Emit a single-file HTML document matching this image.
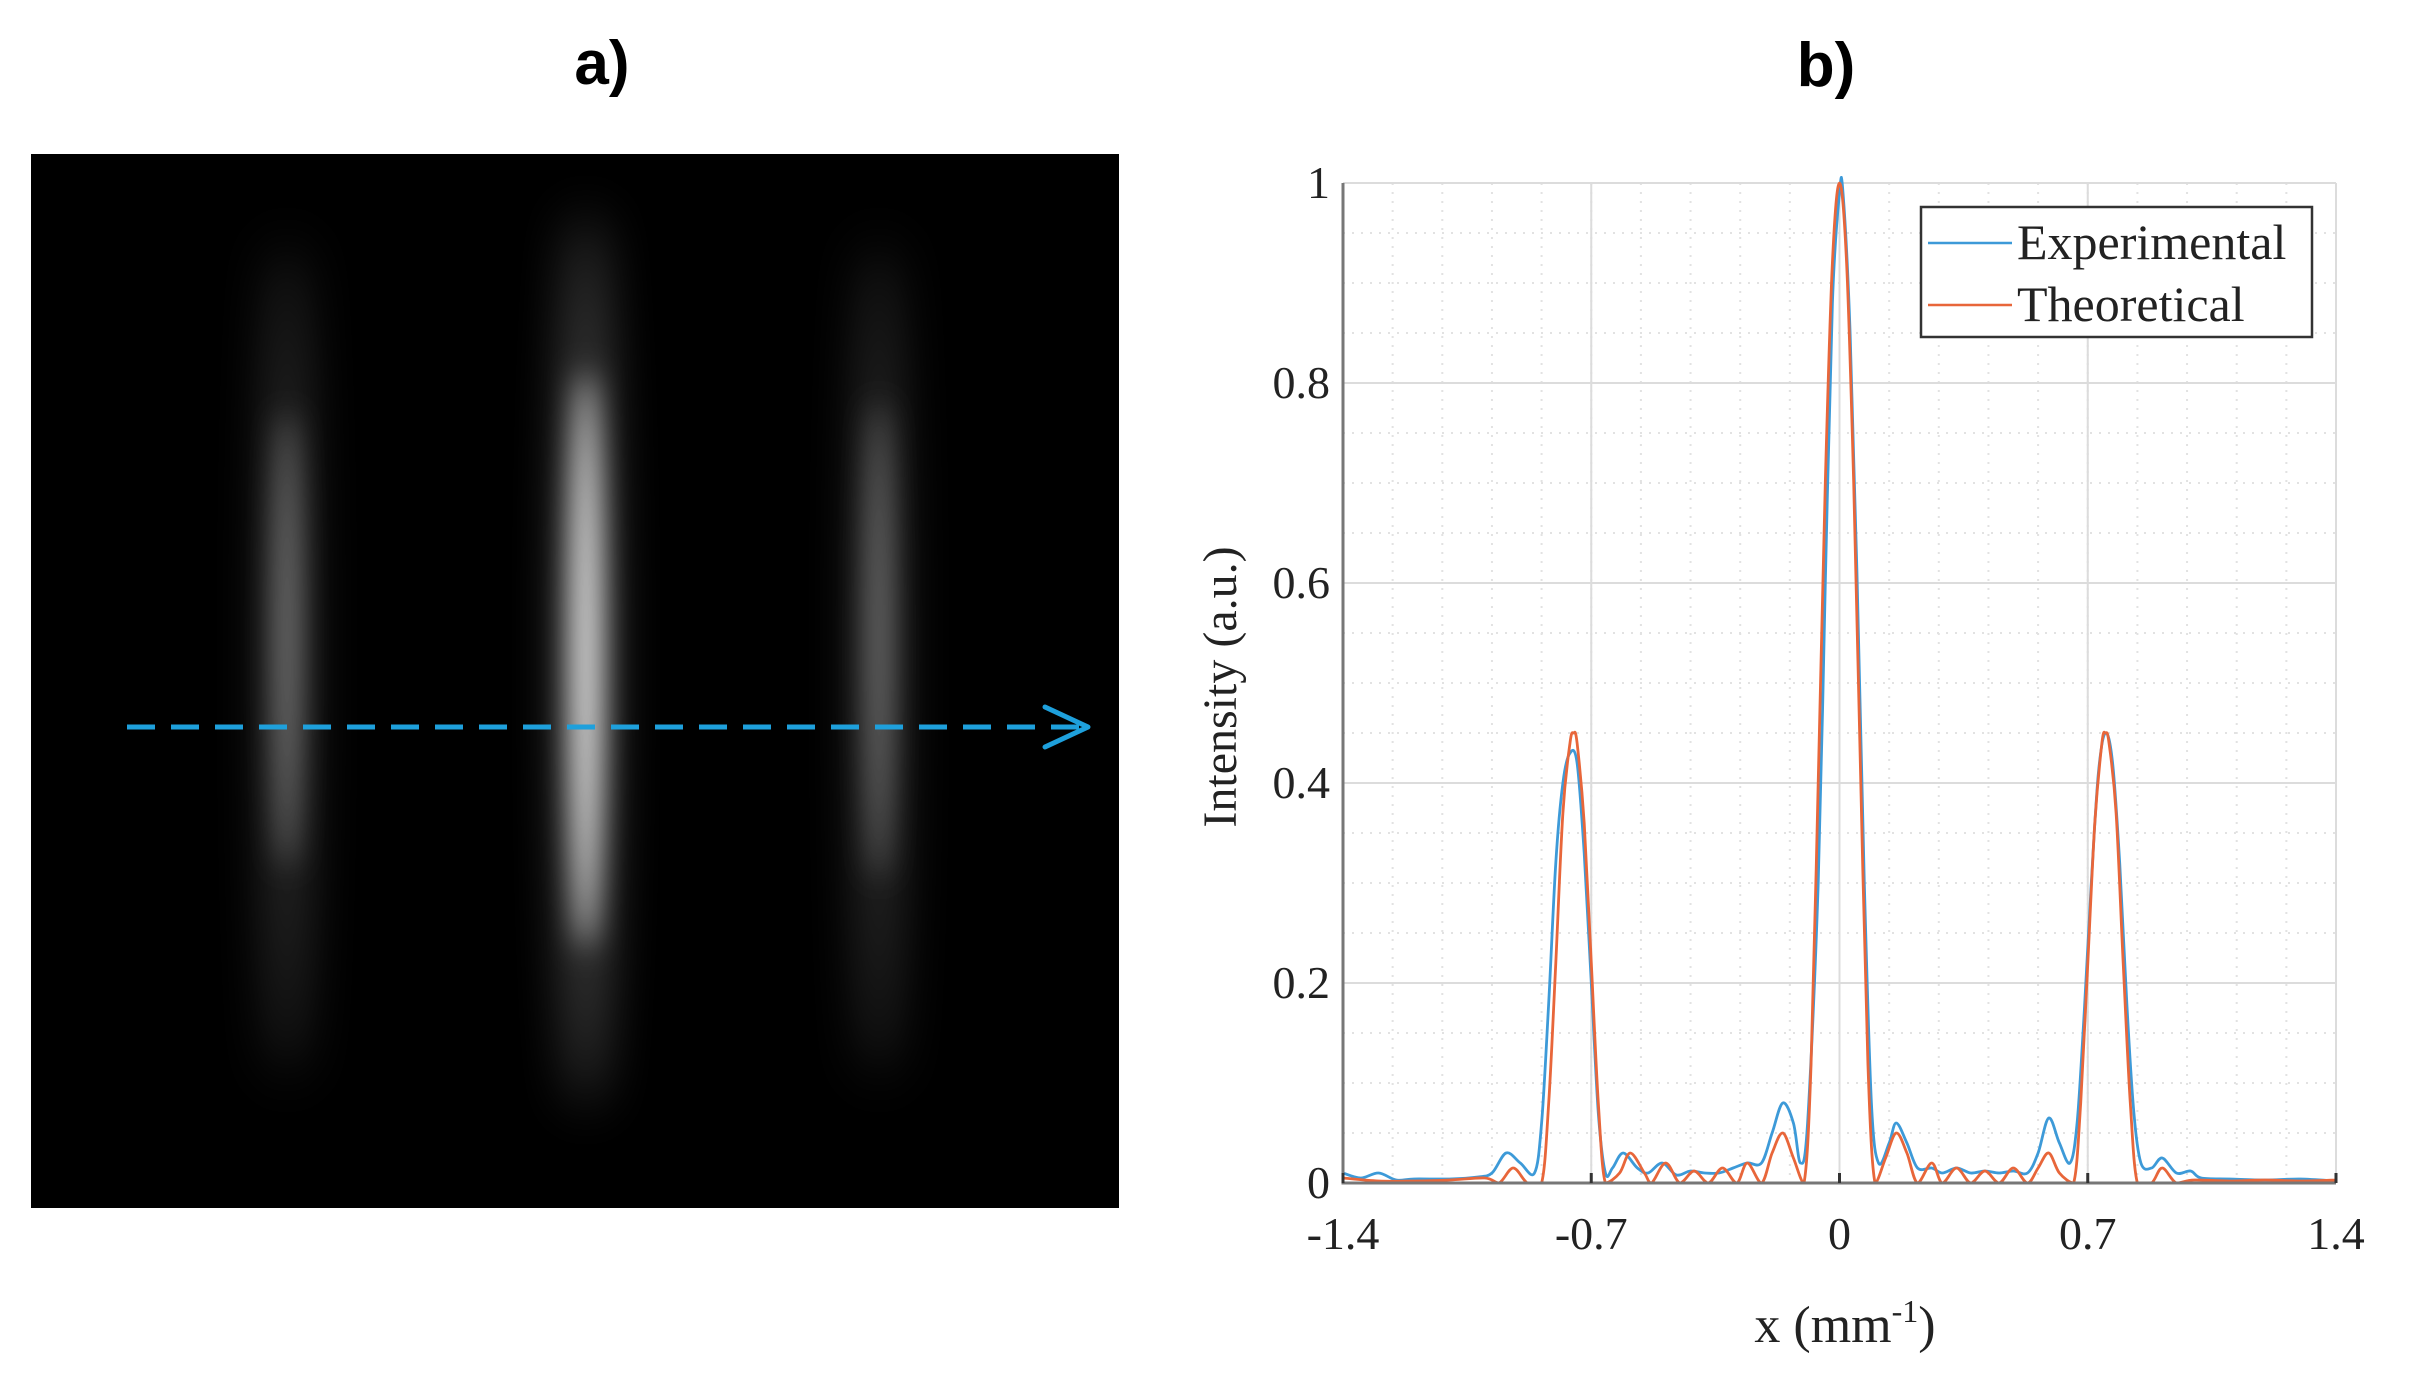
<!DOCTYPE html>
<html><head><meta charset="utf-8"><style>
body{margin:0;background:#fff;width:2418px;height:1389px;overflow:hidden}
svg{display:block}
</style></head><body>
<svg width="2418" height="1389" viewBox="0 0 2418 1389" xmlns="http://www.w3.org/2000/svg">
<defs>
<filter id="blur" x="-50%" y="-50%" width="200%" height="200%"><feGaussianBlur stdDeviation="15"/></filter>
<filter id="blur2" x="-50%" y="-50%" width="200%" height="200%"><feGaussianBlur stdDeviation="26"/></filter>
<clipPath id="imgclip"><rect x="31" y="154" width="1088" height="1054"/></clipPath>
<clipPath id="plotclip"><rect x="1343" y="176" width="993" height="1010"/></clipPath>
</defs>
<text x="602" y="84" text-anchor="middle" font-family="Liberation Sans, sans-serif" font-weight="bold" font-size="62">a)</text>
<text x="1826" y="86" text-anchor="middle" font-family="Liberation Sans, sans-serif" font-weight="bold" font-size="62">b)</text>
<g clip-path="url(#imgclip)">
<rect x="31" y="154" width="1088" height="1054" fill="#000"/>
<g filter="url(#blur2)" opacity="0.5">
<ellipse cx="287" cy="660" rx="16" ry="420" fill="#888"/>
<ellipse cx="586" cy="660" rx="20" ry="450" fill="#bbb"/>
<ellipse cx="879" cy="660" rx="16" ry="420" fill="#888"/>
</g>
<g filter="url(#blur)">
<ellipse cx="287" cy="640" rx="10" ry="230" fill="#8a8a8a"/>
<ellipse cx="586" cy="660" rx="14" ry="290" fill="#eeeeee"/>
<ellipse cx="879" cy="640" rx="10" ry="240" fill="#808080"/>
</g>
</g>
<g stroke="#1ea0dc" stroke-width="5" fill="none">
<line x1="127" y1="727" x2="1082" y2="727" stroke-dasharray="28,16"/>
<polyline points="1045,707 1088,727 1045,747" stroke-linecap="round" stroke-linejoin="round"/>
</g>
<g id="chart"></g>
</svg>
<script>
const xTicks = [-1.4, -0.7, 0, 0.7, 1.4];
const xTickLabels = ["-1.4", "-0.7", "0", "0.7", "1.4"];
const yTicks = [0, 0.2, 0.4, 0.6, 0.8, 1];
const yTickLabels = ["0", "0.2", "0.4", "0.6", "0.8", "1"];
const theoX = [-1.4,-1.3,-1.2,-1.1,-1.0,-0.96,-0.92,-0.88,-0.84,-0.82,-0.80,-0.78,-0.76,-0.75,-0.74,-0.72,-0.70,-0.68,-0.66,-0.62,-0.59,-0.55,-0.53,-0.49,-0.45,-0.41,-0.37,-0.33,-0.29,-0.26,-0.22,-0.19,-0.16,-0.13,-0.10,-0.08,-0.06,-0.04,-0.02,0,0.02,0.04,0.06,0.08,0.10,0.13,0.16,0.19,0.22,0.26,0.29,0.33,0.37,0.41,0.45,0.49,0.53,0.56,0.59,0.62,0.66,0.68,0.70,0.72,0.74,0.75,0.76,0.78,0.80,0.82,0.84,0.88,0.91,0.95,1.0,1.1,1.2,1.3,1.4];
const theoY = [0.005,0.002,0.002,0.003,0.005,0.0,0.015,0.0,0.0,0.08,0.22,0.37,0.44,0.45,0.44,0.36,0.22,0.08,0.0,0.01,0.03,0.01,0.0,0.02,0.0,0.012,0.0,0.015,0.0,0.02,0.0,0.03,0.05,0.025,0.0,0.12,0.4,0.7,0.92,1.0,0.92,0.7,0.4,0.12,0.0,0.025,0.05,0.03,0.0,0.02,0.0,0.015,0.0,0.012,0.0,0.015,0.0,0.015,0.03,0.01,0.0,0.08,0.22,0.36,0.44,0.45,0.44,0.37,0.22,0.08,0.0,0.0,0.015,0.0,0.003,0.002,0.003,0.002,0.003];
const expX = [-1.4,-1.35,-1.3,-1.25,-1.2,-1.1,-1.02,-0.98,-0.94,-0.90,-0.86,-0.84,-0.82,-0.80,-0.78,-0.76,-0.74,-0.72,-0.70,-0.68,-0.66,-0.64,-0.61,-0.57,-0.54,-0.50,-0.46,-0.42,-0.38,-0.34,-0.30,-0.26,-0.22,-0.19,-0.16,-0.13,-0.11,-0.09,-0.06,-0.04,-0.02,0,0.01,0.03,0.05,0.07,0.09,0.11,0.14,0.16,0.19,0.22,0.26,0.29,0.33,0.37,0.41,0.45,0.49,0.53,0.56,0.59,0.62,0.65,0.67,0.69,0.71,0.73,0.75,0.77,0.79,0.81,0.83,0.85,0.88,0.91,0.95,0.99,1.02,1.1,1.2,1.3,1.4];
const expY = [0.01,0.005,0.01,0.003,0.004,0.004,0.006,0.01,0.03,0.02,0.01,0.06,0.18,0.32,0.40,0.43,0.42,0.33,0.2,0.07,0.01,0.015,0.03,0.015,0.01,0.02,0.008,0.012,0.01,0.01,0.015,0.02,0.02,0.05,0.08,0.06,0.02,0.06,0.3,0.6,0.88,0.99,0.99,0.85,0.6,0.3,0.08,0.02,0.04,0.06,0.04,0.015,0.015,0.01,0.015,0.01,0.012,0.01,0.012,0.01,0.03,0.065,0.04,0.02,0.06,0.17,0.3,0.41,0.45,0.42,0.32,0.18,0.07,0.02,0.015,0.025,0.01,0.012,0.005,0.004,0.003,0.004,0.002];

const NS='http://www.w3.org/2000/svg';
const L=1343,R=2336,T=183,B=1183;
function sx(v){return L+(v+1.4)/2.8*(R-L);}
function sy(v){return B-v*(B-T);}
const g=document.getElementById('chart');
function mk(tag,attrs,parent){const e=document.createElementNS(NS,tag);for(const k in attrs)e.setAttribute(k,attrs[k]);(parent||g).appendChild(e);return e;}
for(let i=0;i<=20;i++){const v=-1.4+i*0.14;const e=mk('line',{x1:sx(v),x2:sx(v),y1:T,y2:B,stroke:'#e2e2e2','stroke-width':2,'stroke-dasharray':'2,7'});

}
for(let i=0;i<=20;i++){const v=i*0.05;const e=mk('line',{x1:L,x2:R,y1:sy(v),y2:sy(v),stroke:'#e2e2e2','stroke-width':2,'stroke-dasharray':'2,7'});

}
xTicks.forEach(v=>{const e=mk('line',{x1:sx(v),x2:sx(v),y1:T,y2:B,stroke:'#dcdcdc','stroke-width':2});

});
yTicks.forEach(v=>{const e=mk('line',{x1:L,x2:R,y1:sy(v),y2:sy(v),stroke:'#dcdcdc','stroke-width':2});

});
function series(xs,ys,color,name){
const P=xs.map((x,i)=>[sx(x),sy(ys[i])]);
let d='M'+P[0][0].toFixed(1)+','+P[0][1].toFixed(1);
for(let i=0;i<P.length-1;i++){const p0=P[Math.max(0,i-1)],p1=P[i],p2=P[i+1],p3=P[Math.min(P.length-1,i+2)];
const c1x=p1[0]+(p2[0]-p0[0])/6,c1y=p1[1]+(p2[1]-p0[1])/6,c2x=p2[0]-(p3[0]-p1[0])/6,c2y=p2[1]-(p3[1]-p1[1])/6;
d+=` C${c1x.toFixed(1)},${Math.min(B,c1y).toFixed(1)} ${c2x.toFixed(1)},${Math.min(B,c2y).toFixed(1)} ${p2[0].toFixed(1)},${p2[1].toFixed(1)}`;}
const e=mk('path',{d:d,fill:'none',stroke:color,'stroke-width':2.8,'stroke-linejoin':'round','clip-path':'url(#plotclip)'});

}
series(expX,expY,'#3d9ad8','experimental-line');
series(theoX,theoY,'#e8663a','theoretical-line');
const ax=mk('path',{d:`M${L},${T}V${B}H${R}`,fill:'none',stroke:'#777','stroke-width':3});


xTicks.forEach((v,i)=>{const tk=mk('line',{x1:sx(v),x2:sx(v),y1:B,y2:B-10,stroke:'#333','stroke-width':3});


const t=mk('text',{x:sx(v),y:1249,'text-anchor':'middle','font-family':'Liberation Serif, serif','font-size':46,fill:'#222'});
t.textContent=xTickLabels[i];

});
yTicks.forEach((v,i)=>{const t=mk('text',{x:1330,y:sy(v)+15,'text-anchor':'end','font-family':'Liberation Serif, serif','font-size':46,fill:'#222'});
t.textContent=yTickLabels[i];

});
const yl=mk('text',{x:0,y:0,transform:'translate(1236,687) rotate(-90)','text-anchor':'middle','font-family':'Liberation Serif, serif','font-size':48,fill:'#222'});
yl.textContent='Intensity (a.u.)';


const xl=mk('text',{x:1845,y:1342,'text-anchor':'middle','font-family':'Liberation Serif, serif','font-size':52,fill:'#222'});
xl.innerHTML='x (mm<tspan dy="-20" font-size="32">-1</tspan><tspan dy="20">)</tspan>';


const lg=mk('g',{});


const lb=mk('rect',{x:1921,y:207,width:391,height:130,fill:'#fff',stroke:'#333','stroke-width':2.5},lg);


[['Experimental','#3d9ad8',243],['Theoretical','#e8663a',305]].forEach(([name,c,y])=>{
const ln=mk('line',{x1:1928,x2:2012,y1:y,y2:y,stroke:c,'stroke-width':2.6},lg);


const t=mk('text',{x:2017,y:y+16,'font-family':'Liberation Serif, serif','font-size':50,fill:'#222'},lg);
t.textContent=name;

});
</script>
</body></html>
